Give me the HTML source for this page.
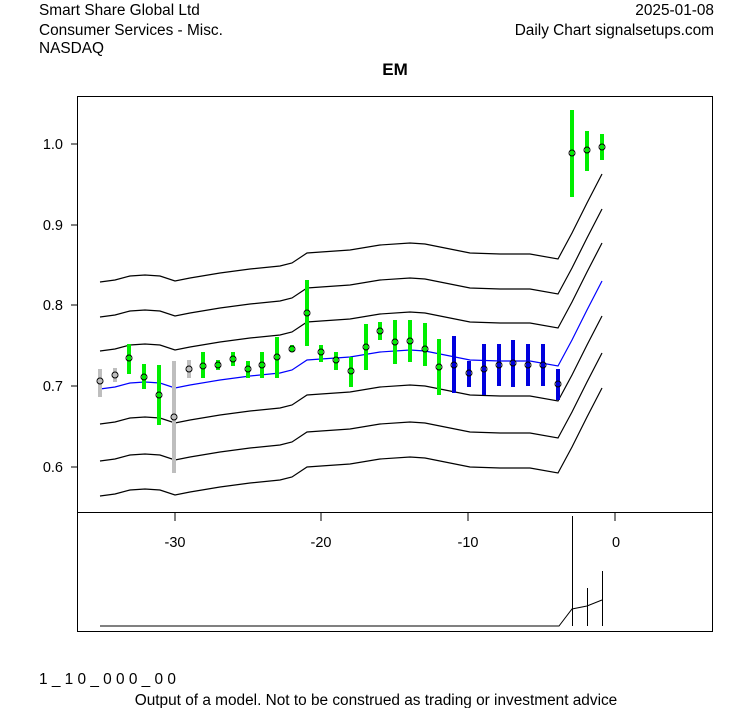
<!DOCTYPE html>
<html><head><meta charset="utf-8"><style>
html,body{margin:0;padding:0;background:#fff;}
svg{display:block;font-family:"Liberation Sans",Arial,sans-serif;}
</style></head><body>
<svg width="753" height="708" viewBox="0 0 753 708" xmlns="http://www.w3.org/2000/svg">
<rect width="753" height="708" fill="#fff"/>
<g font-size="15.4" fill="#000">
<text x="39" y="15">Smart Share Global Ltd</text>
<text x="39" y="35">Consumer Services - Misc.</text>
<text x="39" y="53">NASDAQ</text>
<text x="714" y="15" text-anchor="end">2025-01-08</text>
<text x="714" y="35" text-anchor="end">Daily Chart signalsetups.com</text>
<text x="39" y="684">1 _ 1 0 _ 0 0 0 _ 0 0</text>
<text x="376" y="705" text-anchor="middle">Output of a model. Not to be construed as trading or investment advice</text>
</g>
<text x="395" y="75" font-size="17" font-weight="bold" text-anchor="middle">EM</text>
<rect x="77.5" y="96.5" width="635" height="416" fill="none" stroke="#000"/>
<rect x="77.5" y="512.5" width="635" height="119" fill="none" stroke="#000"/>
<g stroke="#000">
<line x1="77" y1="144" x2="71" y2="144"/><line x1="77" y1="225" x2="71" y2="225"/>
<line x1="77" y1="305" x2="71" y2="305"/><line x1="77" y1="386" x2="71" y2="386"/>
<line x1="77" y1="467" x2="71" y2="467"/>
<line x1="175" y1="512" x2="175" y2="521"/><line x1="321" y1="512" x2="321" y2="521"/>
<line x1="468" y1="512" x2="468" y2="521"/><line x1="615" y1="512" x2="615" y2="521"/>
</g>
<g font-size="14.5" text-anchor="end">
<text x="63" y="149">1.0</text><text x="63" y="230">0.9</text><text x="63" y="310">0.8</text>
<text x="63" y="391">0.7</text><text x="63" y="472">0.6</text>
</g>
<g font-size="14.5" text-anchor="middle">
<text x="175" y="547">-30</text><text x="321" y="547">-20</text><text x="468" y="547">-10</text><text x="616" y="547">0</text>
</g>
<defs>
<polyline id="c" fill="none" points="100,389 115,387 130,383 145,382 160,383 175,388 190,385 220,380 250,376 280,373 292,370 307,360 321,359 350,357 380,352 410,350 425,351 440,354 470,360 500,361 530,361 558,366 572,340 587,310 602,281"/>
</defs>
<g stroke="#000" stroke-width="1.2" fill="none">
<use href="#c" transform="translate(0,-107)"/>
<use href="#c" transform="translate(0,-72)"/>
<use href="#c" transform="translate(0,-38)"/>
<use href="#c" transform="translate(0,35)"/>
<use href="#c" transform="translate(0,72)"/>
<use href="#c" transform="translate(0,107)"/>
</g>
<use href="#c" stroke="#0000ff" stroke-width="1.2"/>
<g stroke-width="4">
<g stroke="#bebebe">
<line x1="100" y1="369" x2="100" y2="397"/><line x1="115" y1="368" x2="115" y2="382"/>
<line x1="174" y1="361" x2="174" y2="473"/><line x1="189" y1="360" x2="189" y2="378"/>
</g>
<g stroke="#00ee00">
<line x1="129" y1="344" x2="129" y2="374"/><line x1="144" y1="364" x2="144" y2="389"/>
<line x1="159" y1="365" x2="159" y2="425"/><line x1="203" y1="352" x2="203" y2="378"/>
<line x1="218" y1="360" x2="218" y2="370"/><line x1="233" y1="352" x2="233" y2="366"/>
<line x1="248" y1="361" x2="248" y2="378"/><line x1="262" y1="352" x2="262" y2="378"/>
<line x1="277" y1="337" x2="277" y2="378"/><line x1="292" y1="345" x2="292" y2="352"/>
<line x1="307" y1="280" x2="307" y2="346"/><line x1="321" y1="345" x2="321" y2="362"/>
<line x1="336" y1="352" x2="336" y2="370"/><line x1="351" y1="357" x2="351" y2="387"/>
<line x1="366" y1="324" x2="366" y2="370"/><line x1="380" y1="322" x2="380" y2="340"/>
<line x1="395" y1="320" x2="395" y2="364"/><line x1="410" y1="320" x2="410" y2="362"/>
<line x1="425" y1="323" x2="425" y2="366"/><line x1="439" y1="339" x2="439" y2="395"/>
<line x1="572" y1="110" x2="572" y2="197"/><line x1="587" y1="131" x2="587" y2="171"/>
<line x1="602" y1="134" x2="602" y2="160"/>
</g>
<g stroke="#0000dd">
<line x1="454" y1="336" x2="454" y2="393"/><line x1="469" y1="361" x2="469" y2="387"/>
<line x1="484" y1="344" x2="484" y2="395"/><line x1="499" y1="344" x2="499" y2="386"/>
<line x1="513" y1="340" x2="513" y2="387"/><line x1="528" y1="344" x2="528" y2="386"/>
<line x1="543" y1="344" x2="543" y2="386"/><line x1="558" y1="369" x2="558" y2="400"/>
</g>
</g>
<g fill="none" stroke="#000" stroke-width="1">
<circle cx="100" cy="381" r="3"/><circle cx="115" cy="375" r="3"/><circle cx="129" cy="358" r="3"/>
<circle cx="144" cy="377" r="3"/><circle cx="159" cy="395" r="3"/><circle cx="174" cy="417" r="3"/>
<circle cx="189" cy="369" r="3"/><circle cx="203" cy="366" r="3"/><circle cx="218" cy="365" r="3"/>
<circle cx="233" cy="359" r="3"/><circle cx="248" cy="369" r="3"/><circle cx="262" cy="365" r="3"/>
<circle cx="277" cy="357" r="3"/><circle cx="292" cy="349" r="3"/><circle cx="307" cy="313" r="3"/>
<circle cx="321" cy="352" r="3"/><circle cx="336" cy="360" r="3"/><circle cx="351" cy="371" r="3"/>
<circle cx="366" cy="347" r="3"/><circle cx="380" cy="331" r="3"/><circle cx="395" cy="342" r="3"/>
<circle cx="410" cy="341" r="3"/><circle cx="425" cy="349" r="3"/><circle cx="439" cy="367" r="3"/>
<circle cx="454" cy="365" r="3"/><circle cx="469" cy="373" r="3"/><circle cx="484" cy="369" r="3"/>
<circle cx="499" cy="365" r="3"/><circle cx="513" cy="363" r="3"/><circle cx="528" cy="365" r="3"/>
<circle cx="543" cy="365" r="3"/><circle cx="558" cy="384" r="3"/><circle cx="572" cy="153" r="3"/>
<circle cx="587" cy="150" r="3"/><circle cx="602" cy="147" r="3"/>
</g>
<g stroke="#000" fill="none">
<polyline points="100,626 559,626 572,609 587,606 602,600"/>
<line x1="572.5" y1="516" x2="572.5" y2="626"/>
<line x1="587.5" y1="588" x2="587.5" y2="626"/>
<line x1="602.5" y1="571" x2="602.5" y2="626"/>
</g>
</svg>
</body></html>
